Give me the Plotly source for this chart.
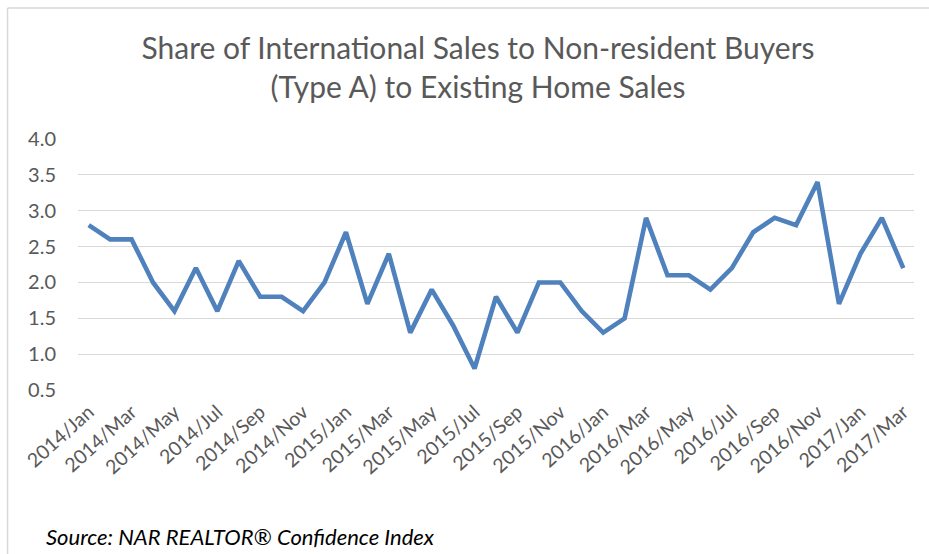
import plotly.graph_objects as go

months = ["Jan", "Feb", "Mar", "Apr", "May", "Jun", "Jul", "Aug", "Sep", "Oct", "Nov", "Dec"]
categories = [f"{y}/{m}" for y in (2014, 2015, 2016) for m in months] + ["2017/Jan", "2017/Feb", "2017/Mar"]

share = [2.8, 2.6, 2.6, 2.0, 1.6, 2.2, 1.6, 2.3, 1.8, 1.8, 1.6, 2.0,
         2.7, 1.7, 2.4, 1.3, 1.9, 1.4, 0.8, 1.8, 1.3, 2.0, 2.0, 1.6,
         1.3, 1.5, 2.9, 2.1, 2.1, 1.9, 2.2, 2.7, 2.9, 2.8, 3.4, 1.7,
         2.4, 2.9, 2.2]

tick_labels = categories[::2]
y_ticks = [0.5, 1.0, 1.5, 2.0, 2.5, 3.0, 3.5, 4.0]

W, H = 929, 554
L, R, T, B = 77.5, 15, 139, 164
pw, ph = W - L - R, H - T - B

fig = go.Figure()
fig.add_trace(go.Scatter(
    x=list(range(len(categories))), y=share, mode="lines",
    line=dict(color="#4F81BD", width=4.6), hoverinfo="skip", showlegend=False,
))

font_family = "Lato, 'Open Sans', sans-serif"
fig.update_layout(
    width=W, height=H,
    margin=dict(l=L, r=R, t=T, b=B, autoexpand=False),
    paper_bgcolor="white", plot_bgcolor="white",
    title=dict(
        text="Share of International Sales to Non-resident Buyers<br>(Type A) to Existing Home Sales",
        x=478 / W, xanchor="center", y=1 - 59 / H, yanchor="middle",
        font=dict(family=font_family, size=30, color="#595959"),
    ),
    xaxis=dict(
        range=[-0.5, len(categories) - 0.5],
        tickmode="array",
        tickvals=list(range(0, len(categories), 2)),
        ticktext=tick_labels,
        tickangle=-42,
        showgrid=False, zeroline=False, showline=False, ticks="",
        automargin=False,
        ticklabelstandoff=6,
        tickfont=dict(family=font_family, size=19.5, color="#595959"),
    ),
    yaxis=dict(
        range=[0.5, 4.0],
        tickmode="array", tickvals=y_ticks,
        ticktext=[f"{v:.1f}" for v in y_ticks],
        showgrid=True, gridcolor="#D9D9D9", gridwidth=1.3,
        zeroline=False, showline=False, ticks="",
        automargin=False,
        ticklabelstandoff=21,
        tickfont=dict(family=font_family, size=20, color="#595959"),
    ),
    font=dict(family=font_family),
)

# chart border (top and left edges)
x_left = (7 - L) / pw
y_top = 1 + (T - 8) / ph
fig.add_shape(type="line", xref="paper", yref="paper",
              x0=x_left, x1=(W - L) / pw + 0.01, y0=y_top, y1=y_top,
              line=dict(color="#D9D9D9", width=1.5))
fig.add_shape(type="line", xref="paper", yref="paper",
              x0=x_left, x1=x_left, y0=y_top, y1=-(B) / ph - 0.01,
              line=dict(color="#D9D9D9", width=1.5))

fig.add_annotation(
    text="<i>Source: NAR REALTOR® Confidence Index</i>",
    xref="paper", yref="paper",
    x=(43 - L) / pw, y=-(536 - (T + ph)) / ph,
    xanchor="left", yanchor="middle", showarrow=False,
    font=dict(family=font_family, size=22, color="#000000"),
)

fig.write_html("out.html", config={"displayModeBar": False},
               post_script="document.body.style.margin='0';document.body.style.overflow='hidden';")
